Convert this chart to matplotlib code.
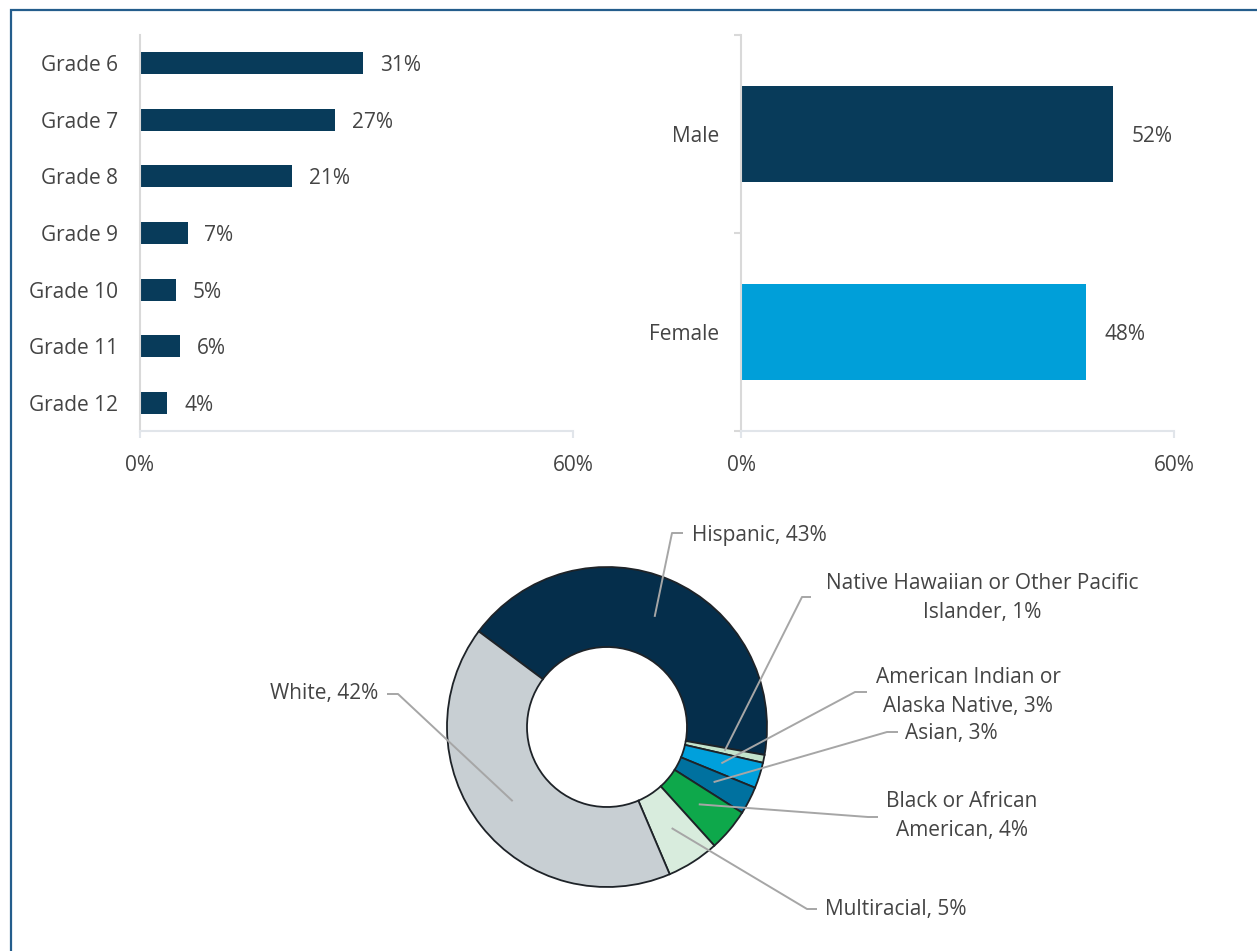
import numpy as np
import matplotlib
matplotlib.use("Agg")
import matplotlib.pyplot as plt
from matplotlib.patches import Rectangle

# Data
grades = ["Grade 6", "Grade 7", "Grade 8", "Grade 9", "Grade 10", "Grade 11", "Grade 12"]
grade_pct = [30.9, 27.0, 21.1, 6.6, 5.0, 5.6, 3.8]

genders = ["Male", "Female"]
gender_pct = [51.6, 47.8]

races = ["Hispanic", "Native Hawaiian or Other Pacific\nIslander", "American Indian or\nAlaska Native",
         "Asian", "Black or African\nAmerican", "Multiracial", "White"]
race_pct = [42.6, 0.8, 2.6, 2.8, 4.3, 5.3, 41.6]

# Style
plt.rcParams["font.family"] = ["Open Sans", "DejaVu Sans"]
TEXT = "#444444"
DARK = "#083b5a"
FS = 15
W, H = 1257, 951

fig = plt.figure(figsize=(W / 100, H / 100), dpi=100)


def px_axes(x0, y0, x1, y1):
    # axes from pixel box (top-left origin)
    return fig.add_axes([x0 / W, 1 - y1 / H, (x1 - x0) / W, (y1 - y0) / H])


def style_bar_axes(ax):
    for s in ["top", "right"]:
        ax.spines[s].set_visible(False)
    ax.spines["left"].set_color("#d9d9d9")
    ax.spines["left"].set_linewidth(1.5)
    ax.spines["bottom"].set_color("#e1e5ea")
    ax.spines["bottom"].set_linewidth(1.5)
    ax.set_xlim(0, 0.6)
    ax.set_xticks([0, 0.6])
    ax.set_xticklabels(["0%", "60%"])
    ax.tick_params(axis="x", length=5, width=1.5, color="#e1e5ea", pad=12, labelsize=FS, labelcolor=TEXT)
    ax.tick_params(axis="y", which="major", length=0, pad=16, labelsize=FS, labelcolor=TEXT)
    for t in ax.get_yticklabels():
        t.set_va("center_baseline")


# Left: grades
ax1 = px_axes(140, 35, 573, 431)
ypos = np.arange(len(grades))
bars = ax1.barh(ypos, np.array(grade_pct) / 100, height=0.39, color=DARK)
ax1.set_yticks(ypos)
ax1.set_yticklabels(grades)
ax1.set_ylim(len(grades) - 0.5, -0.5)
for t in ax1.bar_label(bars, labels=[f"{v:.0f}%" for v in grade_pct], padding=12, fontsize=FS, color=TEXT):
    t.set_va("center_baseline")
style_bar_axes(ax1)

# Right: gender
ax2 = px_axes(741, 35, 1174, 431)
gpos = np.arange(len(genders))
bars2 = ax2.barh(gpos, np.array(gender_pct) / 100, height=0.48, color=[DARK, "#009fd9"])
ax2.set_yticks(gpos)
ax2.set_yticklabels(genders)
ax2.set_ylim(len(genders) - 0.5, -0.5)
ax2.set_yticks([-0.5, 0.5, 1.5], minor=True)
ax2.tick_params(axis="y", which="minor", length=5, width=1.5, color="#d9d9d9")
for t in ax2.bar_label(bars2, labels=[f"{v:.0f}%" for v in gender_pct], padding=13, fontsize=FS, color=TEXT):
    t.set_va("center_baseline")
style_bar_axes(ax2)

# Bottom: donut
CX, CY, R = 607, 727, 160
ax3 = px_axes(0, 480, W, H)
race_colors = ["#052e4b", "#c3e4cc", "#00a0dc", "#00719f", "#0ea84b", "#d8ecdd", "#c8cfd3"]
wedges, _ = ax3.pie(race_pct, colors=race_colors, startangle=143.3, counterclock=False, radius=1,
                    wedgeprops=dict(width=0.5, edgecolor="#1e2328", linewidth=1.3))
ax3.set_xlim(-CX / R, (W - CX) / R)
ax3.set_ylim(-(H - CY) / R, (CY - 480) / R)
ax3.set_aspect("equal", adjustable="datalim")
ax3.axis("off")


def to_data(px, py):
    return (px - CX) / R, (CY - py) / R


# label layout: (elbow px, line end px, text px, ha)
label_layout = [
    ((672, 533), (683, 533), (692, 535), "left"),
    ((802, 597), (811, 597), (982, 598), "center"),
    ((855, 692), (867, 692), (968, 692), "center"),
    ((887, 732), (898, 732), (905, 733), "left"),
    ((868, 817), (878, 817), (962, 816), "center"),
    ((807, 909), (817, 909), (825, 910), "left"),
    ((398, 694), (387, 694), (378, 694), "right"),
]

for w, name, v, (elbow, end, tpos, ha) in zip(wedges, races, race_pct, label_layout):
    mid = np.deg2rad((w.theta1 + w.theta2) / 2)
    ax_, ay_ = 0.75 * np.cos(mid), 0.75 * np.sin(mid)
    ex, ey = to_data(*elbow)
    lx, ly = to_data(*end)
    ax3.plot([ax_, ex, lx], [ay_, ey, ly], color="#a6a6a6", lw=1.4, solid_capstyle="butt")
    tx, ty = to_data(*tpos)
    ax3.text(tx, ty, f"{name}, {round(v)}%", ha=ha, va="center", multialignment="center",
             fontsize=FS, color=TEXT, linespacing=1.55)

# Frame
fig.patches.append(Rectangle((11 / W, -0.05), 1.1, (H - 10) / H + 0.05, transform=fig.transFigure,
                             fill=False, edgecolor="#245d8c", linewidth=1.6))

fig.savefig("out.png", dpi=100)
